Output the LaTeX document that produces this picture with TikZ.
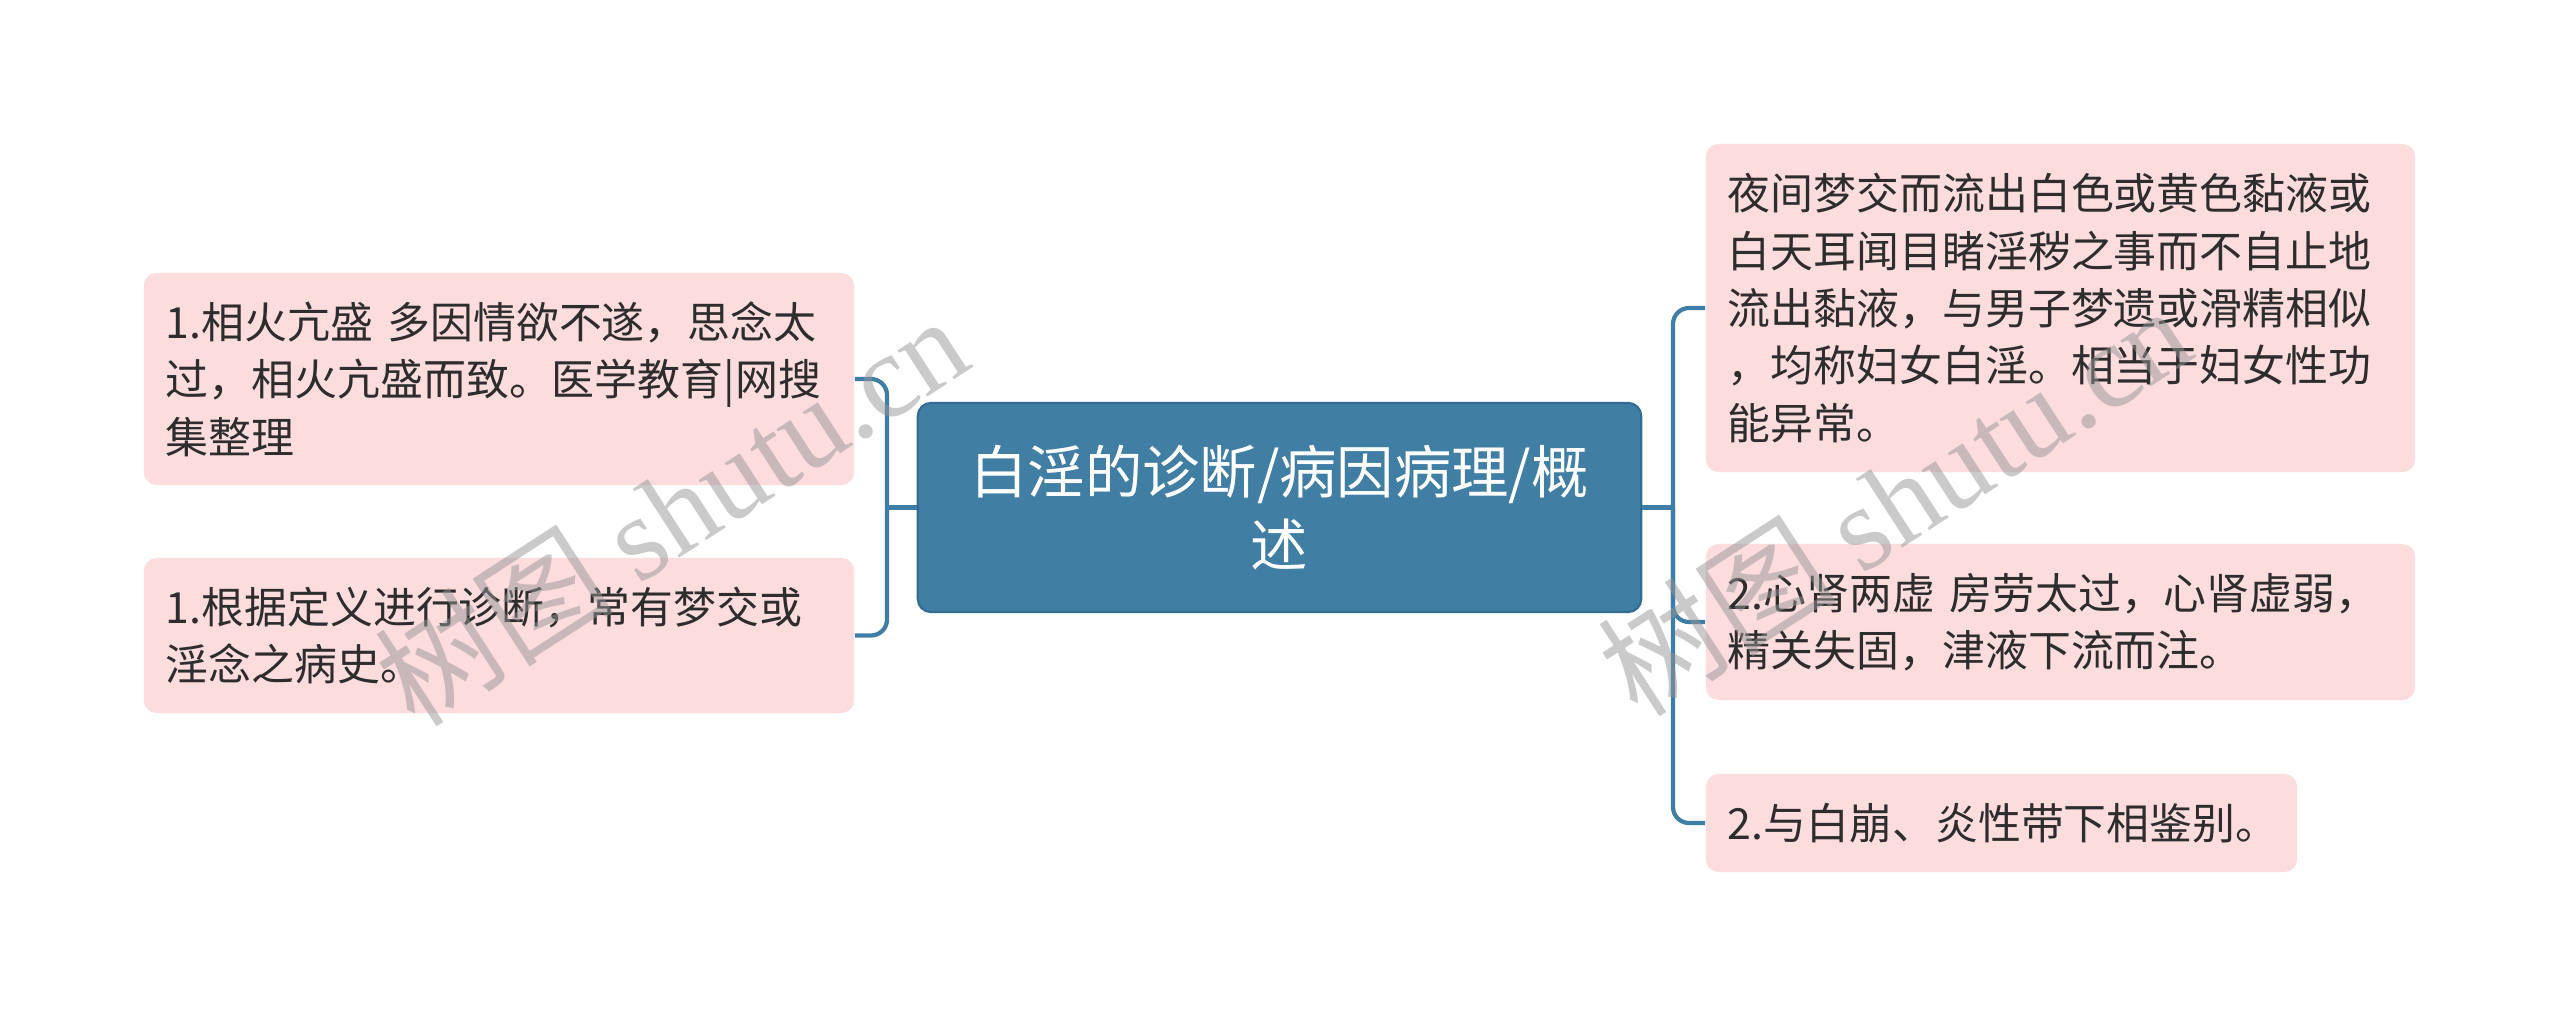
\documentclass[tikz,border=0pt]{standalone}
\usepackage{fontspec}
\setmainfont{Noto Sans CJK SC}
\newfontfamily\wmlatin{Liberation Serif}
\definecolor{mainblue}{RGB}{64,126,164}
\definecolor{mainborder}{RGB}{50,108,148}
\definecolor{pinkfill}{RGB}{252,220,221}
\definecolor{txtdark}{RGB}{45,45,45}
\definecolor{linkblue}{RGB}{62,125,166}
\definecolor{wmgray}{RGB}{150,150,150}
\begin{document}
\begin{tikzpicture}[x=0.01cm,y=-0.01cm,
  rootbox/.style={draw=mainborder, line width=0.6pt, fill=mainblue, rounded corners=0.13cm,
    text=white, align=center, font=\fontsize{16.3}{20.8}\selectfont, inner sep=0pt},
  leafbox/.style={fill=pinkfill, rounded corners=0.13cm, text=txtdark, align=left,
    font=\fontsize{12.2}{16.3}\selectfont, inner xsep=0.22cm, inner ysep=0pt},
  link/.style={draw=linkblue, line width=1.2pt, rounded corners=0.16cm},
  wm/.style={text=wmgray, opacity=0.5, font=\fontsize{34}{38}\selectfont, inner sep=0pt}
]
\useasboundingbox[fill=white] (0,0) rectangle (2560,1017);

\node[rootbox, minimum width=7.23cm, minimum height=2.09cm] (root) at (1279.5,507.5)
  {白淫的诊断/病因病理/概\\述};

\node[leafbox, minimum height=2.12cm, text width=6.66cm] (l1) at (499,379)
  {1.相火亢盛 多因情欲不遂，思念太\\过，相火亢盛而致。医学教育|网搜\\集整理};
\node[leafbox, minimum height=1.55cm, text width=6.66cm] (l2) at (499,635.5)
  {1.根据定义进行诊断，常有梦交或\\淫念之病史。};

\node[leafbox, minimum height=3.28cm, text width=6.65cm] (r1) at (2060.5,308)
  {夜间梦交而流出白色或黄色黏液或\\白天耳闻目睹淫秽之事而不自止地\\流出黏液，与男子梦遗或滑精相似\\，均称妇女白淫。相当于妇女性功\\能异常。};
\node[leafbox, minimum height=1.56cm, text width=6.65cm] (r2) at (2060.5,622)
  {2.心肾两虚 房劳太过，心肾虚弱，\\精关失固，津液下流而注。};
\node[leafbox, minimum height=0.98cm, text width=5.47cm] (r3) at (2001.5,823)
  {2.与白崩、炎性带下相鉴别。};

\coordinate (lj) at (887,507.5);
\coordinate (rj) at (1673,507.5);
\draw[link] (root.west) -- (lj);
\draw[link] (l1.east) -| (lj) |- (l2.east);
\draw[link] (root.east) -- (rj);
\draw[link] (r1.west) -| (rj) |- (r3.west);
\draw[link] (rj) |- (r2.west);

\node[wm, rotate=33] (wm1) at (671,510) {树图 {\wmlatin shutu.cn}};
\node[wm, rotate=33] (wm2) at (1894,500) {树图 {\wmlatin shutu.cn}};
\end{tikzpicture}
\end{document}
